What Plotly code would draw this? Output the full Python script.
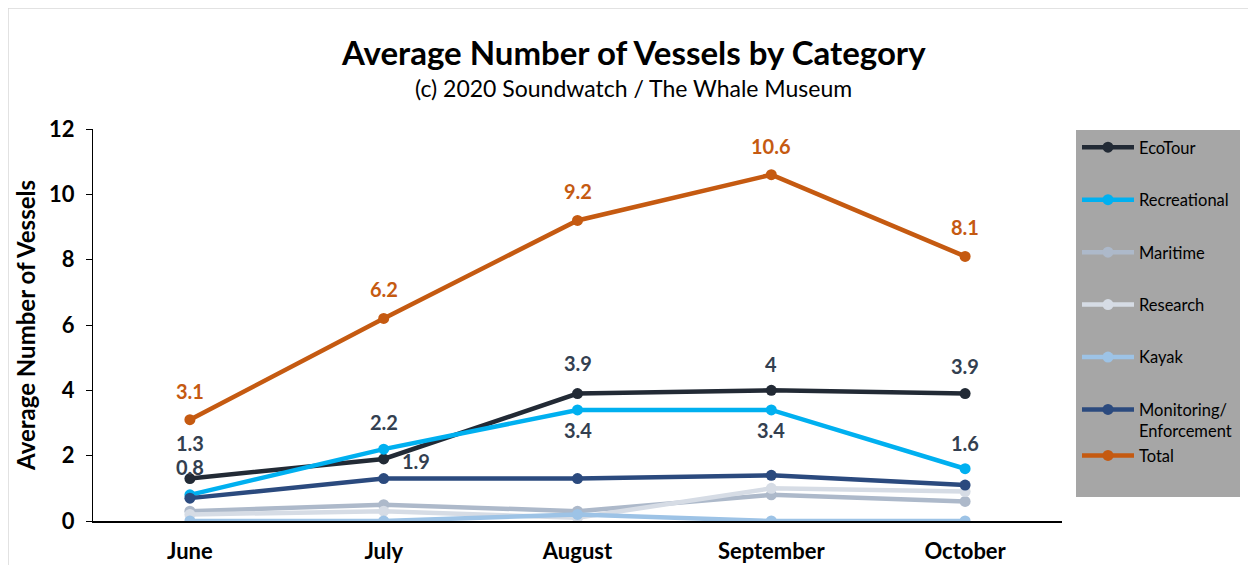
import plotly.graph_objects as go

months = ["June", "July", "August", "September", "October"]
ecotour = [1.3, 1.9, 3.9, 4.0, 3.9]
recreational = [0.8, 2.2, 3.4, 3.4, 1.6]
maritime = [0.3, 0.5, 0.3, 0.8, 0.6]
research = [0.2, 0.3, 0.1, 1.0, 0.9]
kayak = [0.0, 0.0, 0.2, 0.0, 0.0]
monitoring = [0.7, 1.3, 1.3, 1.4, 1.1]
total = [3.1, 6.2, 9.2, 10.6, 8.1]

series = [
    ("EcoTour", ecotour, "#222a35", "g0"),
    ("Recreational", recreational, "#00b0f0", "g1"),
    ("Maritime", maritime, "#adb9ca", "g2"),
    ("Research", research, "#d6dce5", "g3"),
    ("Kayak", kayak, "#9dc3e6", "g4"),
    ("Monitoring/<br>Enforcement", monitoring, "#2b4a7e", "g5"),
    ("Total", total, "#c55a11", "g5"),
]

FONT = "Lato"
fig = go.Figure()
for name, vals, col, grp in series:
    fig.add_trace(go.Scatter(
        x=months, y=vals, name=name, mode="lines+markers",
        line=dict(color=col, width=4.5),
        marker=dict(color=col, size=11),
        legendgroup=grp,
    ))

ann = []
lab_col = "#333f50"
LS = 20
def fmt(v):
    return f"<b>{v:g}</b>"
for i, v in enumerate(total):
    ann.append(dict(x=months[i], y=v, text=fmt(v), yshift=29,
                    font=dict(color="#c55a11", size=LS, family=FONT), showarrow=False))
eco_shift = [(0, 36), (32, -2), (0, 31), (0, 26), (0, 28)]
for i, v in enumerate(ecotour):
    xs, ys = eco_shift[i]
    ann.append(dict(x=months[i], y=v, text=fmt(v), xshift=xs, yshift=ys,
                    font=dict(color=lab_col, size=LS, family=FONT), showarrow=False))
rec_shift = [28, 27, -20, -20, 26]
for i, v in enumerate(recreational):
    ann.append(dict(x=months[i], y=v, text=fmt(v), yshift=rec_shift[i],
                    font=dict(color=lab_col, size=LS, family=FONT), showarrow=False))

# title & subtitle
ann.append(dict(xref="paper", yref="paper", x=(633 - 93) / 969, y=(521 - 52) / 392,
                text="<b>Average Number of Vessels by Category</b>", showarrow=False,
                font=dict(size=33, color="#000000", family=FONT), yanchor="middle"))
ann.append(dict(xref="paper", yref="paper", x=(633 - 93) / 969, y=(521 - 88) / 392,
                text="(c) 2020 Soundwatch / The Whale Museum", showarrow=False,
                font=dict(size=23, color="#000000", family=FONT), yanchor="middle"))

shapes = [
    dict(type="rect", xref="paper", yref="paper",
         x0=(1076 - 93) / 969, x1=(1240 - 93) / 969,
         y0=(521 - 497) / 392, y1=(521 - 130) / 392,
         fillcolor="#a6a6a6", line=dict(width=0), layer="below"),
    dict(type="rect", xref="paper", yref="paper",
         x0=(8 - 93) / 969, x1=(1300 - 93) / 969,
         y0=(521 - 600) / 392, y1=(521 - 8) / 392,
         fillcolor="rgba(0,0,0,0)", line=dict(width=1.5, color="#d9d9d9"), layer="below"),
]

fig.update_layout(
    width=1240, height=557,
    margin=dict(l=85, r=186, t=121, b=44, autoexpand=False),
    paper_bgcolor="white", plot_bgcolor="white",
    font=dict(family=FONT, color="#000000"),
    showlegend=True,
    legend=dict(x=(1077 - 93) / 969, xanchor="left",
                y=(521 - 130) / 392, yanchor="top",
                bgcolor="rgba(0,0,0,0)", font=dict(size=16.5, family=FONT, color="#000000"),
                tracegroupgap=28, valign="top", itemwidth=52),
    annotations=ann, shapes=shapes,
    xaxis=dict(showline=True, linecolor="#000000", linewidth=1.5, ticks="",
               showgrid=False, range=[-0.5, 4.5], ticklabelstandoff=10, automargin=False,
               tickfont=dict(size=22, family=FONT, color="#000000", weight="bold")),
    yaxis=dict(range=[0, 12], dtick=2, showline=True, linecolor="#000000", linewidth=1,
               ticks="outside", ticklen=6, tickcolor="#000000", showgrid=False, zeroline=False,
               ticklabelstandoff=7, automargin=False,
               tickfont=dict(size=22, family=FONT, color="#000000", weight="bold"),
               title=dict(text="<b>Average Number of Vessels</b>", standoff=6,
                          font=dict(size=24, family=FONT, color="#000000"))),
)
fig.write_html("out.html")
